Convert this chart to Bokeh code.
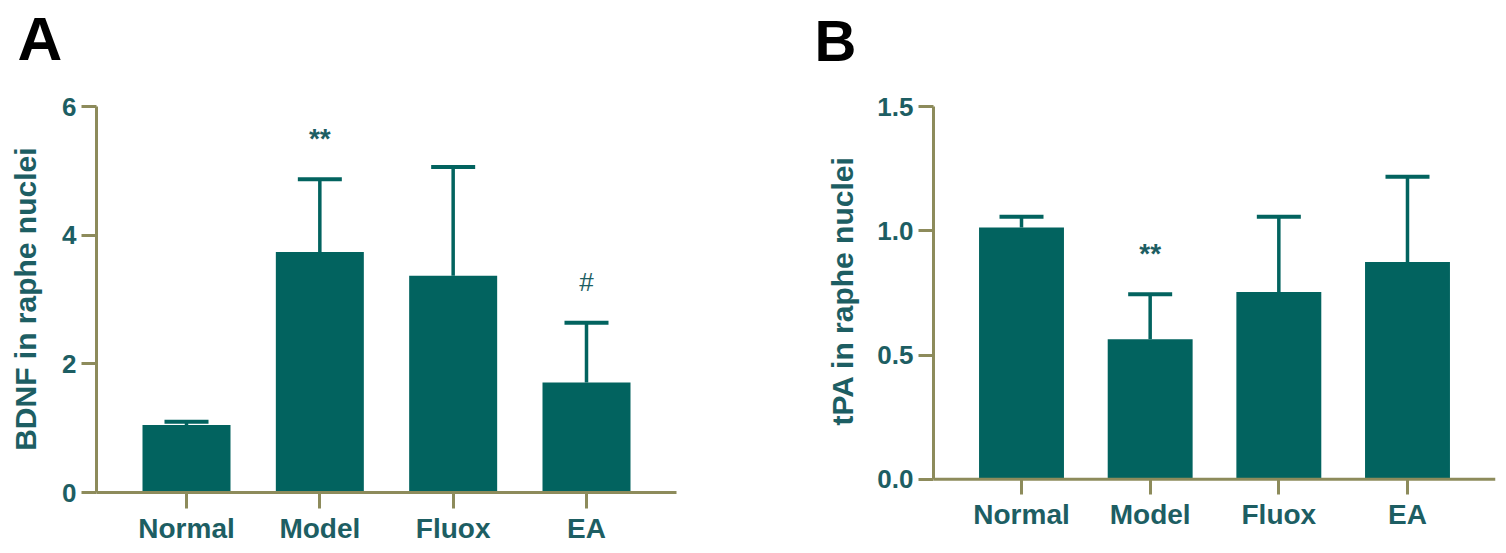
from bokeh.plotting import figure
from bokeh.models import (FactorRange, Range1d, FixedTicker, Whisker, ColumnDataSource,
                          TeeHead, Span, PrintfTickFormatter)
from bokeh.layouts import row
from bokeh.embed import file_html
from bokeh.resources import INLINE
from bokeh.core.properties import value

# ---- data ----
groups = ["Normal", "Model", "Fluox", "EA"]
bdnf_mean = [1.05, 3.74, 3.37, 1.71]
bdnf_upper = [1.10, 4.87, 5.06, 2.64]
bdnf_marks = ["", "**", "", "#"]
bdnf_ticks = [0, 2, 4, 6]

tpa_mean = [1.013, 0.564, 0.754, 0.874]
tpa_upper = [1.056, 0.745, 1.056, 1.217]
tpa_marks = ["", "**", "", ""]
tpa_ticks = [0, 0.5, 1.0, 1.5]

BAR = "#02635f"
TXT = "#1d5e63"
AX = "#8d8b5b"
FONT = "Liberation Sans"
H = 550
TOP = 72  # top border; the value axis starts 34 px lower
NBSP = "\u00a0"


def panel(letter, ylabel, mean, upper, marks, ticks, ymin, ymax, pad, fmt,
          w, bl, br, lab_standoff, letter_off, letter_size, lab_pad):
    p = figure(x_range=FactorRange(*groups, range_padding=pad, range_padding_units="absolute"),
               y_range=Range1d(ymin, ymax), width=w, height=H,
               min_border_left=bl, min_border_right=br, min_border_top=TOP, min_border_bottom=58,
               output_backend="svg", toolbar_location=None)
    src = ColumnDataSource(dict(x=groups, top=mean, upper=upper))
    p.vbar(x="x", top="top", width=0.66, source=src, fill_color=BAR, line_color=None)
    wh = Whisker(base="x", lower="top", upper="upper", source=src, dimension="height",
                 line_color=BAR, line_width=3.5,
                 upper_head=TeeHead(size=44, line_color=BAR, line_width=4),
                 lower_head=None, level="glyph")
    p.add_layout(wh)

    for sym, size, style in (("**", "28px", "bold"), ("#", "26px", "normal")):
        idx = [i for i, m in enumerate(marks) if m == sym]
        if not idx:
            continue
        msrc = ColumnDataSource(dict(x=[groups[i] for i in idx], y=[upper[i] for i in idx],
                                     t=[marks[i] for i in idx]))
        p.text(x="x", y="y", text="t", source=msrc, y_offset=-41,
               text_align="center", text_baseline="middle", text_color=TXT,
               text_font=value(FONT), text_font_size=size, text_font_style=style)

    p.xgrid.visible = False
    p.ygrid.visible = False
    p.outline_line_color = None
    p.background_fill_color = "white"
    p.border_fill_color = "white"

    for ax in (p.xaxis, p.yaxis):
        ax.axis_line_color = AX
        ax.axis_line_width = 3
        ax.major_tick_line_color = AX
        ax.major_tick_line_width = 3
        ax.major_tick_in = 0
        ax.minor_tick_line_color = None
        ax.major_label_text_color = TXT
        ax.major_label_text_font = FONT
        ax.major_label_text_font_style = "bold"

    p.xaxis.major_label_text_font_size = "28px"
    p.xaxis.major_label_standoff = 4
    if ymin < 0:
        # x axis line sits at y = 0, above the frame bottom
        p.xaxis.axis_line_alpha = 0
        p.xaxis.major_tick_in = 14
        p.xaxis.major_tick_out = 2
        p.add_layout(Span(location=0, dimension="width", line_color=AX, line_width=3))
    else:
        p.xaxis.major_tick_out = 16

    p.yaxis.ticker = FixedTicker(ticks=ticks)
    p.yaxis.bounds = (0, ticks[-1])
    if fmt:
        p.yaxis.formatter = PrintfTickFormatter(format=fmt)
    p.yaxis.major_tick_out = 15
    p.yaxis.major_label_text_font_size = "26px"
    p.yaxis.major_label_standoff = 5
    # trailing non-breaking spaces centre the label on the 0..max part of the axis
    p.yaxis.axis_label = ylabel + NBSP * lab_pad
    p.yaxis.axis_label_text_font = FONT
    p.yaxis.axis_label_text_font_style = "bold"
    p.yaxis.axis_label_text_font_size = "30px"
    p.yaxis.axis_label_text_color = TXT
    p.yaxis.axis_label_standoff = lab_standoff

    p.title.text = letter
    p.title.text_font = FONT
    p.title.text_font_style = "bold"
    p.title.text_font_size = letter_size
    p.title.text_color = "black"
    p.title.align = "left"
    p.title.offset = letter_off
    p.title.vertical_align = "bottom"
    p.title.standoff = 0
    return p


pa = panel("A", "BDNF in raphe nuclei", bdnf_mean, bdnf_upper, bdnf_marks, bdnf_ticks,
           0, 6.5285, 0.175, None, 800, 96, 124, 17, -79, "62px", 4)
pb = panel("B", "tPA in raphe nuclei", tpa_mean, tpa_upper, tpa_marks, tpa_ticks,
           -0.053, 1.6368, 0.184, "%.1f", 706, 133, 11, 15, -119, "58px", 2)

layout = row(pa, pb)
open("out.html", "w").write(file_html(layout, INLINE))
